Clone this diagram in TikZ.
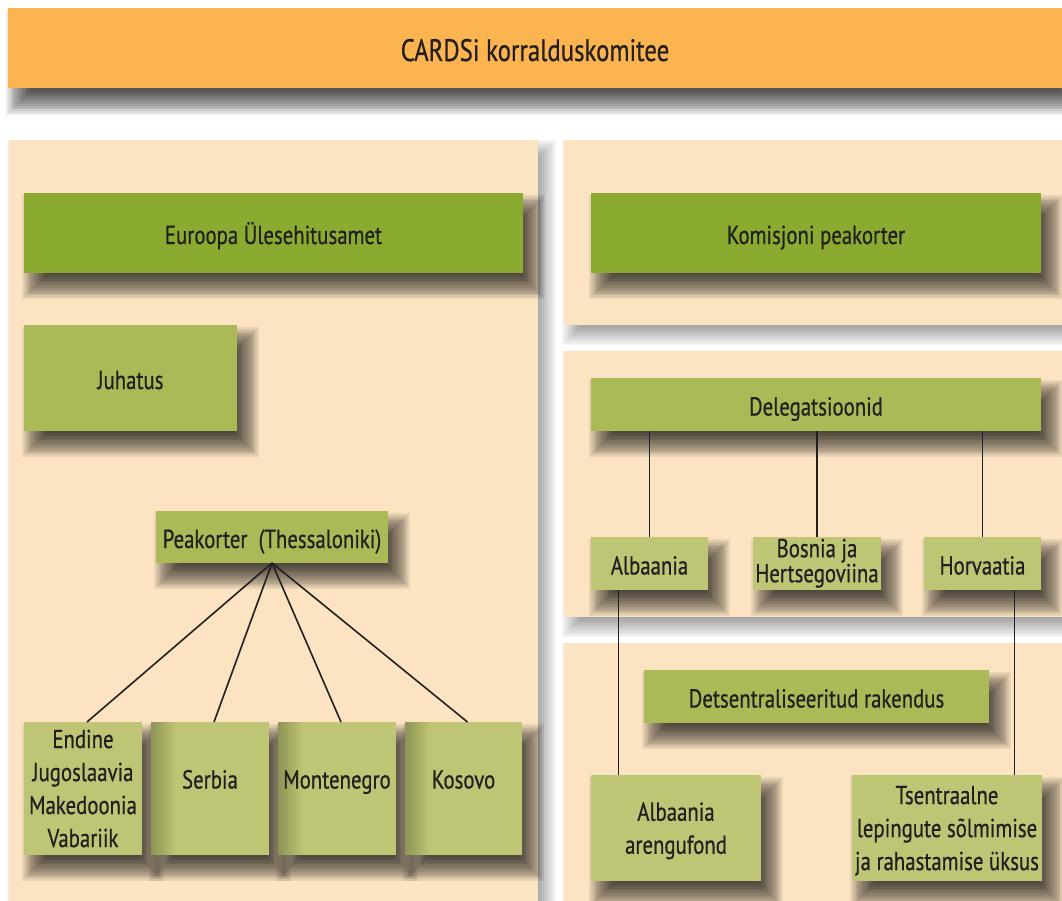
\documentclass[tikz,border=0pt]{standalone}
\usepackage{fontspec}
\setmainfont{PT Sans}[FakeStretch=0.8, FakeBold=0.6]
\definecolor{bannerc}{HTML}{FBB44F}
\definecolor{panelc}{HTML}{FCE4C3}
\definecolor{darkg}{HTML}{8AAB2F}
\definecolor{midg}{HTML}{AABA56}
\definecolor{lightg}{HTML}{BEC574}
\definecolor{txt}{HTML}{231F20}
\pgfdeclarelayer{panels}
\pgfdeclarelayer{shadows}
\pgfsetlayers{panels,shadows,main}
% soft shadow: nw corner, se corner, dx, dy, radius, alpha per layer
\newcommand\softshadow[6]{%
  \foreach \k in {0,...,13}{%
    \pgfmathsetmacro\ee{#5*(1-(2*\k+1)/14)}%
    \fill[black, opacity=#6] ([shift={({#3-(\ee)},{#4-(\ee)})}]#1) rectangle ([shift={({#3+(\ee)},{#4+(\ee)})}]#2);
  }}
\newcommand\boxshadow[1]{\softshadow{#1.north west}{#1.south east}{10}{14}{13}{0.075}}
\begin{document}
\begin{tikzpicture}[x=1pt,y=-1pt,
  every node/.style={inner sep=0pt, outer sep=0pt, anchor=north west, text=txt, align=center,
    font=\fontsize{26}{33}\selectfont},
  darkbox/.style={fill=darkg},
  midbox/.style={fill=midg},
  leafbox/.style={fill=lightg},
  edgeshade/.style={path picture={\foreach \i in {1,...,12}{\fill[black, opacity=0.018]
    (path picture bounding box.north west) rectangle ([xshift=2*\i pt]path picture bounding box.south west);}}},
  oneline/.style={text height=22pt, text depth=0pt},
  tallone/.style={text height=20pt, text depth=20pt},
  conn/.style={draw=txt, line width=1.6pt}
]
\clip (0,0) rectangle (1062,901);
\begin{pgfonlayer}{panels}
\fill[white] (0,0) rectangle (1062,901);
\coordinate (p1a) at (9,140);   \coordinate (p1b) at (538,915);
\coordinate (p2a) at (564,140); \coordinate (p2b) at (1075,325);
\coordinate (p3a) at (564,351); \coordinate (p3b) at (1075,617);
\coordinate (p4a) at (564,643); \coordinate (p4b) at (1075,915);
\softshadow{p1a}{p1b}{8}{10}{11}{0.03}
\softshadow{p2a}{p2b}{8}{10}{11}{0.03}
\softshadow{p3a}{p3b}{8}{10}{11}{0.03}
\softshadow{p4a}{p4b}{8}{10}{11}{0.03}
\fill[panelc] (p1a) rectangle (p1b);
\fill[panelc] (p2a) rectangle (p2b);
\fill[panelc] (p3a) rectangle (p3b);
\fill[panelc] (p4a) rectangle (p4b);
\end{pgfonlayer}
% banner
\node[fill=bannerc, minimum width=1054pt, minimum height=80pt,
  font=\fontsize{31}{36}\selectfont, text height=26pt, text depth=0pt] (banner) at (8,8) {CARDSi korralduskomitee};
% left column
\node[darkbox, oneline, minimum width=499pt, minimum height=80pt] (eu) at (24,193) {Euroopa Ülesehitusamet};
\node[midbox, oneline, minimum width=213pt, minimum height=106pt] (ju) at (24,325) {Juhatus};
\node[midbox, oneline, minimum width=232pt, minimum height=52pt] (pk) at (156,511) {Peakorter\ \ (Thessaloniki)};
\node[leafbox, minimum width=118pt, minimum height=133pt] (end) at (24,722) {Endine\\Jugoslaavia\\Makedoonia\\Vabariik};
\node[leafbox, edgeshade, tallone, minimum width=118pt, minimum height=133pt] (ser) at (151,722) {Serbia};
\node[leafbox, edgeshade, tallone, minimum width=118pt, minimum height=133pt] (mon) at (278,722) {Montenegro};
\node[leafbox, edgeshade, tallone, minimum width=117pt, minimum height=133pt] (kos) at (405,722) {Kosovo};
% right column
\node[darkbox, oneline, minimum width=450pt, minimum height=80pt] (kp) at (591,193) {Komisjoni peakorter};
\node[midbox, oneline, minimum width=450pt, minimum height=53pt] (del) at (591,378) {Delegatsioonid};
\node[leafbox, oneline, minimum width=117pt, minimum height=53pt] (alb) at (591,537) {Albaania};
\node[leafbox, minimum width=128pt, minimum height=53pt, font=\fontsize{26}{25}\selectfont,
  text depth=6pt] (bos) at (753,537) {Bosnia ja\\Hertsegoviina};
\node[leafbox, oneline, minimum width=117pt, minimum height=53pt] (hor) at (924,537) {Horvaatia};
\node[midbox, oneline, minimum width=345pt, minimum height=53pt] (dec) at (644,670) {Detsentraliseeritud rakendus};
\node[leafbox, minimum width=170pt, minimum height=106pt, text depth=0pt] (aaf) at (591,775) {Albaania\\arengufond};
\node[leafbox, minimum width=190pt, minimum height=106pt, text depth=0pt] (tse) at (852,775) {Tsentraalne\\lepingute sõlmimise\\ja rahastamise üksus};
% shadows
\begin{pgfonlayer}{shadows}
\softshadow{banner.north west}{banner.south east}{10}{15}{13}{0.07}
\boxshadow{eu}\boxshadow{ju}\boxshadow{pk}
\boxshadow{end}\boxshadow{ser}\boxshadow{mon}\boxshadow{kos}
\boxshadow{kp}\boxshadow{del}\boxshadow{alb}\boxshadow{bos}\boxshadow{hor}
\boxshadow{dec}\boxshadow{aaf}\boxshadow{tse}
\end{pgfonlayer}
% connectors
\draw[conn] (pk.south) -- ([xshift=4pt]end.north);
\draw[conn] (pk.south) -- ([xshift=4pt]ser.north);
\draw[conn] (pk.south) -- ([xshift=4pt]mon.north);
\draw[conn] (pk.south) -- ([xshift=4pt]kos.north);
\draw[conn] (del.south -| alb.north) -- (alb.north);
\draw[conn] (del.south -| bos.north) -- (bos.north);
\draw[conn] (del.south -| hor.north) -- (hor.north);
\draw[conn] ([xshift=-31pt]alb.south) -- ([xshift=-31pt]alb.south |- aaf.north);
\draw[conn] ([xshift=32pt]hor.south) -- ([xshift=32pt]hor.south |- tse.north);
\end{tikzpicture}
\end{document}
